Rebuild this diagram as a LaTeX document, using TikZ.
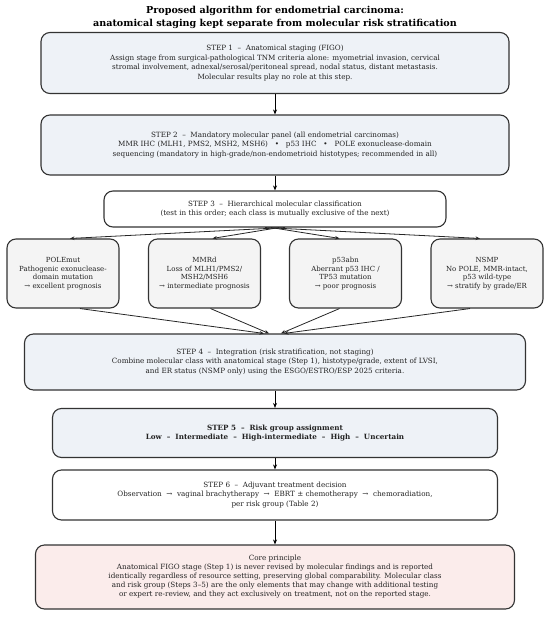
\documentclass[tikz,border=0pt]{standalone}
\usepackage{fontspec}
\setmainfont{DejaVu Serif}
\usetikzlibrary{arrows.meta,calc}
\definecolor{stepfill}{HTML}{EEF2F7}
\definecolor{classfill}{HTML}{F4F4F4}
\definecolor{corefill}{HTML}{FBECEB}
\definecolor{edgecol}{HTML}{333333}
\definecolor{txt}{HTML}{222222}
\begin{document}
\begin{tikzpicture}[x=1pt,y=-1pt,
  box/.style={draw=edgecol,line width=1.1pt,rounded corners=9pt,inner sep=0pt,align=center,
    font=\fontsize{7.2}{9.4}\selectfont,text=txt},
  stepbox/.style={box,fill=stepfill},
  plainbox/.style={box,fill=white},
  classbox/.style={box,fill=classfill,minimum width=112pt,minimum height=69pt,font=\fontsize{7}{8.5}\selectfont},
  corebox/.style={box,fill=corefill,font=\fontsize{7.2}{9}\selectfont},
  arr/.style={-{Stealth[length=5pt,width=4pt]},line width=0.9pt,black},
  lnk/.style={-{Stealth[length=4.5pt,width=3.6pt]},line width=0.8pt,black!85}
]
\useasboundingbox (0,0) rectangle (550,617);
\node[font=\bfseries\fontsize{9.6}{13}\selectfont,align=center,text=black] (title) at (275,17.5)
  {Proposed algorithm for endometrial carcinoma:\\anatomical staging kept separate from molecular risk stratification};

\node[stepbox,minimum width=468pt,minimum height=61pt] (s1) at (275,63)
  {STEP 1\ \ –\ \ Anatomical staging (FIGO)\\
   Assign stage from surgical-pathological TNM criteria alone: myometrial invasion, cervical\\
   stromal involvement, adnexal/serosal/peritoneal spread, nodal status, distant metastasis.\\
   Molecular results play no role at this step.};

\node[stepbox,minimum width=468pt,minimum height=60pt] (s2) at (275,145)
  {STEP 2\ \ –\ \ Mandatory molecular panel (all endometrial carcinomas)\\
   MMR IHC (MLH1, PMS2, MSH2, MSH6)\ \ \ •\ \ \ p53 IHC\ \ \ •\ \ \ POLE exonuclease-domain\\
   sequencing (mandatory in high-grade/non-endometrioid histotypes; recommended in all)};

\node[plainbox,minimum width=342pt,minimum height=36pt] (s3) at (275,209)
  {STEP 3\ \ –\ \ Hierarchical molecular classification\\
   (test in this order; each class is mutually exclusive of the next)};

\node[classbox] (c1) at (63,273.5) {POLEmut\\Pathogenic exonuclease-\\domain mutation\\→ excellent prognosis};
\node[classbox] (c2) at (204.5,273.5) {MMRd\\Loss of MLH1/PMS2/\\MSH2/MSH6\\→ intermediate prognosis};
\node[classbox] (c3) at (345.5,273.5) {p53abn\\Aberrant p53 IHC /\\TP53 mutation\\→ poor prognosis};
\node[classbox] (c4) at (487,273.5) {NSMP\\No POLE, MMR-intact,\\p53 wild-type\\→ stratify by grade/ER};

\node[stepbox,minimum width=501pt,minimum height=56pt] (s4) at (275,362)
  {STEP 4\ \ –\ \ Integration (risk stratification, not staging)\\
   Combine molecular class with anatomical stage (Step 1), histotype/grade, extent of LVSI,\\
   and ER status (NSMP only) using the ESGO/ESTRO/ESP 2025 criteria.};

\node[stepbox,minimum width=445pt,minimum height=49pt,font=\bfseries\fontsize{7.2}{9.6}\selectfont] (s5) at (275,433)
  {STEP 5\ \ –\ \ Risk group assignment\\
   Low\ \ –\ \ Intermediate\ \ –\ \ High-intermediate\ \ –\ \ High\ \ –\ \ Uncertain};

\node[plainbox,minimum width=445pt,minimum height=50pt] (s6) at (275,495)
  {STEP 6\ \ –\ \ Adjuvant treatment decision\\
   Observation\ \ →\ \ vaginal brachytherapy\ \ →\ \ EBRT ± chemotherapy\ \ →\ \ chemoradiation,\\
   per risk group (Table 2)};

\node[corebox,minimum width=479pt,minimum height=64pt] (core) at (275,577)
  {Core principle\\
   Anatomical FIGO stage (Step 1) is never revised by molecular findings and is reported\\
   identically regardless of resource setting, preserving global comparability. Molecular class\\
   and risk group (Steps 3–5) are the only elements that may change with additional testing\\
   or expert re-review, and they act exclusively on treatment, not on the reported stage.};

\draw[arr] (s1) -- (s2);
\draw[arr] (s2) -- (s3);
\draw[arr] (s4) -- (s5);
\draw[arr] (s5) -- (s6);
\draw[arr] (s6) -- (core);

\draw[lnk] ($(s3.south)+(10,0)$) -- ($(c1.north)+(7,0)$);
\draw[lnk] ($(s3.south)+(4,0)$) -- ($(c2.north)+(8,0)$);
\draw[lnk] ($(s3.south)+(-4,0)$) -- ($(c3.north)+(-6,0)$);
\draw[lnk] ($(s3.south)+(-10,0)$) -- ($(c4.north)+(-7,0)$);

\draw[lnk] ($(c1.south)+(17,0)$) -- ($(s4.north)+(-11,0)$);
\draw[lnk] ($(c2.south)+(6,0)$) -- ($(s4.north)+(-6,0)$);
\draw[lnk] ($(c3.south)+(-6,0)$) -- ($(s4.north)+(6,0)$);
\draw[lnk] ($(c4.south)+(-17,0)$) -- ($(s4.north)+(9,0)$);
\end{tikzpicture}
\end{document}
